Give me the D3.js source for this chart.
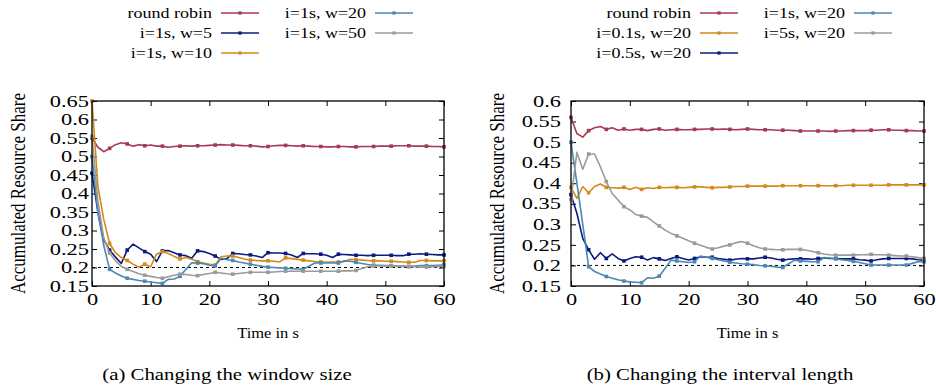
<!DOCTYPE html>
<html>
<head>
<meta charset="utf-8">
<script src="https://cdn.jsdelivr.net/npm/d3@7/dist/d3.min.js"></script>
<style>
  body { margin: 0; background: #fff; }
  text { font-family: "Liberation Serif", "Times New Roman", serif; fill: #000; }
</style>
</head>
<body>
<svg id="chart" width="936" height="392"></svg>
<script>
// ---- data ----
const seconds = [0,1,2,3,4,5,6,7,8,9,10,11,12,13,14,15,16,17,18,19,20,21,22,23,24,25,26,27,28,29,30,
  31,32,33,34,35,36,37,38,39,40,41,42,43,44,45,46,47,48,49,50,51,52,53,54,55,56,57,58,59,60];

const xTicks = [0, 10, 20, 30, 40, 50, 60];
const xLabels = ["0", "10", "20", "30", "40", "50", "60"];
const yTicksA = [0.15, 0.2, 0.25, 0.3, 0.35, 0.4, 0.45, 0.5, 0.55, 0.6, 0.65];
const yLabelsA = ["0.15", "0.2", "0.25", "0.3", "0.35", "0.4", "0.45", "0.5", "0.55", "0.6", "0.65"];
const yTicksB = [0.15, 0.2, 0.25, 0.3, 0.35, 0.4, 0.45, 0.5, 0.55, 0.6];
const yLabelsB = ["0.15", "0.2", "0.25", "0.3", "0.35", "0.4", "0.45", "0.5", "0.55", "0.6"];
const fairShare = 0.2;

// (a) changing the window size
const namesA = ["round robin", "i=1s, w=5", "i=1s, w=10", "i=1s, w=20", "i=1s, w=50"];
const roundRobinA = [.550,.525,.513,.522,.532,.537,.534,.528,.532,.529,.531,.528,.528,.525,.527,.528,.529,.528,.529,.529,
  .530,.531,.532,.531,.531,.530,.529,.529,.528,.526,.527,.529,.530,.530,.529,.528,.529,.528,.527,.527,
  .526,.526,.527,.527,.526,.526,.527,.527,.527,.528,.528,.528,.529,.529,.529,.528,.528,.528,.527,.527,.526];
const w5A = [.455,.350,.275,.247,.228,.211,.247,.263,.253,.243,.236,.216,.245,.246,.240,.234,.232,.225,.245,.243,
  .238,.231,.222,.224,.238,.237,.235,.234,.231,.227,.240,.239,.239,.238,.234,.227,.238,.237,.237,.236,
  .233,.227,.236,.235,.234,.233,.233,.232,.233,.233,.233,.233,.232,.232,.236,.236,.237,.236,.235,.234,.234];
const w10A = [.650,.420,.330,.265,.240,.227,.219,.209,.201,.209,.202,.236,.243,.238,.230,.223,.227,.222,.216,.212,
  .209,.207,.229,.231,.231,.227,.223,.220,.219,.218,.218,.217,.215,.226,.224,.222,.220,.218,.216,.215,
  .215,.215,.215,.216,.222,.221,.220,.219,.218,.218,.217,.217,.216,.215,.214,.214,.219,.219,.218,.218,.218];
const w20A = [.500,.350,.260,.195,.185,.177,.171,.168,.165,.163,.161,.159,.157,.168,.169,.176,.195,.213,.212,.210,
  .206,.204,.225,.221,.219,.215,.212,.209,.206,.203,.201,.200,.199,.198,.197,.196,.195,.204,.212,.212,
  .212,.212,.212,.218,.217,.214,.211,.208,.206,.206,.205,.205,.204,.204,.203,.204,.205,.205,.205,.206,.207];
const w50A = [.555,.380,.280,.239,.218,.203,.195,.189,.183,.179,.176,.173,.171,.175,.179,.182,.181,.179,.178,.181,
  .184,.187,.185,.183,.182,.184,.186,.187,.187,.187,.187,.188,.189,.190,.190,.190,.190,.190,.190,.190,
  .190,.190,.190,.191,.191,.192,.197,.202,.204,.204,.204,.204,.203,.203,.202,.202,.201,.201,.202,.203,.203];

// (b) changing the interval length
const namesB = ["round robin", "i=0.1s, w=20", "i=0.5s, w=20", "i=1s, w=20", "i=5s, w=20"];
const roundRobinB = [.560,.521,.512,.528,.535,.538,.531,.535,.529,.532,.529,.531,.531,.528,.531,.532,.529,.530,.531,.530,
  .530,.531,.531,.532,.532,.531,.532,.531,.530,.531,.532,.531,.530,.530,.530,.529,.529,.529,.528,.527,
  .527,.527,.527,.527,.526,.527,.527,.528,.528,.528,.528,.529,.529,.530,.530,.529,.529,.528,.528,.527,.527];
const i01B = [.390,.363,.392,.377,.392,.398,.390,.389,.388,.390,.385,.390,.385,.389,.387,.390,.389,.390,.390,.389,
  .390,.391,.391,.390,.389,.390,.390,.391,.392,.392,.393,.393,.393,.393,.393,.393,.394,.394,.394,.394,
  .394,.394,.394,.394,.394,.394,.394,.395,.395,.395,.395,.395,.395,.395,.396,.396,.396,.396,.396,.396,.396];
const i05B = [.372,.327,.266,.238,.215,.231,.217,.228,.217,.211,.217,.221,.220,.213,.219,.216,.212,.217,.221,.217,
  .213,.217,.221,.220,.220,.217,.215,.213,.215,.217,.216,.216,.218,.220,.218,.215,.213,.215,.216,.216,
  .216,.215,.217,.218,.217,.217,.216,.216,.216,.214,.213,.211,.214,.216,.217,.217,.217,.217,.216,.214,.213];
const i1B = [.500,.400,.300,.197,.185,.179,.173,.169,.165,.162,.160,.159,.158,.170,.169,.174,.193,.213,.211,.209,
  .207,.209,.223,.220,.217,.214,.211,.208,.206,.204,.203,.202,.200,.199,.198,.196,.195,.204,.213,.211,
  .210,.209,.209,.219,.218,.216,.214,.212,.210,.207,.204,.201,.201,.201,.201,.201,.201,.201,.205,.209,.209];
const i5B = [.360,.475,.434,.471,.471,.440,.404,.375,.359,.343,.335,.324,.320,.317,.306,.296,.286,.278,.272,.266,
  .260,.254,.249,.244,.240,.243,.247,.250,.255,.258,.254,.248,.243,.240,.239,.238,.238,.239,.239,.239,
  .237,.234,.231,.228,.226,.225,.225,.225,.225,.226,.226,.227,.226,.226,.225,.224,.223,.223,.221,.219,.217];

// ---- drawing ----
const svg = d3.select("#chart");
svg.append("rect").attr("width", 936).attr("height", 392).attr("fill", "#fff");

const palette = ["#a53a52", "#0c1a80", "#d4891c", "#4a88b5", "#9a9a9a"];
const tickSx = 1.4;   // the figure is stretched sideways
const labelSx = 1.2;

var putText = function(g, str, x, y, size, sx, anchor) {
  return g.append("text")
    .attr("transform", "translate(" + x + "," + y + ") scale(" + sx + ",1)")
    .attr("text-anchor", anchor || "middle")
    .style("font-size", size + "px")
    .text(str);
};

var drawPanel = function(p) {
  let g = svg.append("g");
  let x = d3.scaleLinear().domain([0, 60]).range([p.left, p.right]);
  let y = d3.scaleLinear().domain([p.yTicks[0], p.yTicks[p.yTicks.length - 1]]).range([p.bottom, p.top]);

  let colorOf = (i) => palette[p.colorIdx[i]];

  // axes, ticks pointing inside
  let ax = g.append("g").attr("transform", "translate(0," + p.bottom + ")")
    .call(d3.axisBottom(x).tickValues(xTicks).tickSize(-5).tickPadding(8)
      .tickFormat((d, i) => xLabels[i]));
  let ay = g.append("g").attr("transform", "translate(" + p.left + ",0)")
    .call(d3.axisLeft(y).tickValues(p.yTicks).tickSize(-5).tickPadding(p.labelGap)
      .tickFormat((d, i) => p.yLabels[i]));
  g.append("g").attr("transform", "translate(0," + p.top + ")")
    .call(d3.axisTop(x).tickValues(xTicks).tickSize(-5).tickFormat(""));
  g.append("g").attr("transform", "translate(" + p.right + ",0)")
    .call(d3.axisRight(y).tickValues(p.yTicks).tickSize(-5).tickFormat(""));

  g.selectAll(".domain").remove();
  g.selectAll(".tick line").attr("stroke", "#000").attr("stroke-width", 1);
  [ax, ay].forEach(function(a) {
    a.selectAll("text")
      .attr("font-family", null)
      .style("font-size", "16px")
      .attr("fill", "#000")
      .each(function() {
        let t = d3.select(this);
        t.attr("x", (+t.attr("x") || 0) / tickSx).attr("transform", "scale(" + tickSx + ",1)");
      });
  });

  // fair share reference
  g.append("line")
    .attr("x1", x(0)).attr("x2", x(60))
    .attr("y1", y(fairShare)).attr("y2", y(fairShare))
    .attr("stroke", "#000").attr("stroke-width", 1).attr("stroke-dasharray", "3,3");

  let line = d3.line()
    .x((d, i) => x(seconds[i]))
    .y((d) => y(d));

  let clip = g.append("g");
  p.series.forEach(function(s, k) {
    clip.append("path")
      .datum(s)
      .attr("fill", "none")
      .attr("stroke", colorOf(k))
      .attr("stroke-width", 1.6)
      .attr("stroke-linejoin", "round")
      .attr("d", line);
    clip.selectAll(null)
      .data(s.filter((d, i) => seconds[i] % 3 === 0).map((d, i) => [i * 3, d]))
      .enter().append("rect")
      .attr("x", (d) => x(d[0]) - 1.8)
      .attr("y", (d) => y(d[1]) - 1.8)
      .attr("width", 3.6).attr("height", 3.6)
      .attr("fill", colorOf(k));
  });

  // frame
  g.append("rect")
    .attr("x", p.left).attr("y", p.top)
    .attr("width", p.right - p.left).attr("height", p.bottom - p.top)
    .attr("fill", "none").attr("stroke", "#000").attr("stroke-width", 1.3);

  // legend
  p.names.forEach(function(name, k) {
    let col = k < 3 ? 0 : 1;
    let row = k < 3 ? k : k - 3;
    let tx = p.legendX[col];
    let ly = 18 + row * 20;
    putText(g, name, tx, ly, 15, labelSx, "end");
    g.append("line")
      .attr("x1", tx + 9).attr("x2", tx + 47)
      .attr("y1", ly - 5).attr("y2", ly - 5)
      .attr("stroke", colorOf(k)).attr("stroke-width", 1.6);
    g.append("rect")
      .attr("x", tx + 28 - 1.6).attr("y", ly - 5 - 1.6)
      .attr("width", 3.2).attr("height", 3.2)
      .attr("fill", colorOf(k));
  });

  // titles
  let midX = (p.left + p.right) / 2;
  putText(g, "Time in s", midX, 338, 15, 1.1);
  g.append("text")
    .attr("transform", "translate(" + p.titleX + "," + ((p.top + p.bottom) / 2) + ") scale(" + labelSx + ",1) rotate(-90)")
    .attr("text-anchor", "middle")
    .style("font-size", "17px")
    .text("Accumulated Resource Share");
  putText(g, p.caption, p.captionX, 380, 16, 1.3);
};

drawPanel({
  left: 92, right: 444, top: 101, bottom: 286, labelGap: 3,
  yTicks: yTicksA, yLabels: yLabelsA,
  names: namesA, series: [roundRobinA, w5A, w10A, w20A, w50A],
  colorIdx: [0, 1, 2, 3, 4],
  legendX: [212, 366], titleX: 25, captionX: 227,
  caption: "(a)  Changing the window size"
});

drawPanel({
  left: 571, right: 924, top: 101, bottom: 286, labelGap: 10,
  yTicks: yTicksB, yLabels: yLabelsB,
  names: namesB, series: [roundRobinB, i01B, i05B, i1B, i5B],
  colorIdx: [0, 2, 1, 3, 4],
  legendX: [691, 845], titleX: 504, captionX: 720,
  caption: "(b)  Changing the interval length"
});
</script>
</body>
</html>
